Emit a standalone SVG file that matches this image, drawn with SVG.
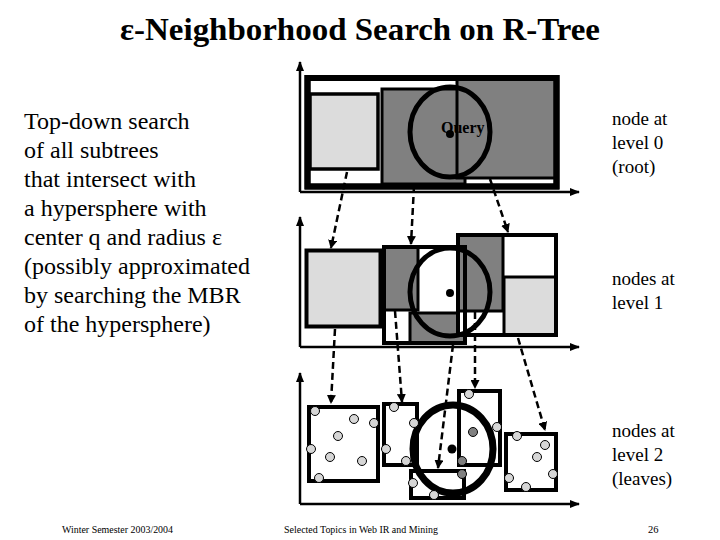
<svg xmlns="http://www.w3.org/2000/svg" width="720" height="540" viewBox="0 0 720 540">
<defs>
<marker id="ah" markerUnits="userSpaceOnUse" markerWidth="9" markerHeight="9" refX="8" refY="4.5" orient="auto"><path d="M0,0 L9,4.5 L0,9 Z" fill="#000"/></marker>
<marker id="ax" markerUnits="userSpaceOnUse" markerWidth="10" markerHeight="8" refX="9" refY="4" orient="auto"><path d="M0,0 L10,4 L0,8 Z" fill="#000"/></marker>
<style>
.t{font-family:"Liberation Serif","Times New Roman",serif;fill:#000}
.axis{stroke:#000;stroke-width:2.5;fill:none;marker-end:url(#ax)}
.conn{stroke:#000;stroke-width:2.5;fill:none;stroke-dasharray:7,4;marker-end:url(#ah)}
.w{fill:#fff;stroke:#000}
.lg{fill:#dcdcdc;stroke:#000}
.dg{fill:#808080;stroke:#000}
.ring{fill:none;stroke:#000}
.pt{fill:#d6d6d6;stroke:#000;stroke-width:1}
.pd{fill:#808080;stroke:#000;stroke-width:1}
</style>
</defs>
<rect width="720" height="540" fill="#fff"/>
<text class="t" x="360" y="40" text-anchor="middle" font-size="32" font-weight="bold" textLength="480" lengthAdjust="spacingAndGlyphs">ε-Neighborhood Search on R-Tree</text>
<g id="description" class="t" font-size="24">
<text x="24" y="129">Top-down search</text>
<text x="24" y="158">of all subtrees</text>
<text x="24" y="187">that intersect with</text>
<text x="24" y="216">a hypersphere with</text>
<text x="24" y="245">center q and radius ε</text>
<text x="24" y="274">(possibly approximated</text>
<text x="24" y="303">by searching the MBR</text>
<text x="24" y="332">of the hypersphere)</text>
</g>
<g id="axes">
<path class="axis" d="M300,192 L300,62"/><path class="axis" d="M300,192 L579,192"/>
<path class="axis" d="M300,347 L300,217"/><path class="axis" d="M300,347 L579,347"/>
<path class="axis" d="M300,504 L300,373"/><path class="axis" d="M300,504 L579,504"/>
</g>
<g id="level0">
<rect class="w" x="307.5" y="78" width="249" height="108.5" stroke-width="6"/>
<rect class="lg" x="310" y="94" width="68" height="75" stroke-width="3.5"/>
<rect class="dg" x="382" y="89" width="83" height="95" stroke-width="3"/>
<rect class="dg" x="457" y="79" width="98" height="99" stroke-width="3"/>
<rect x="307.5" y="78" width="249" height="108.5" fill="none" stroke="#000" stroke-width="6"/>
<ellipse class="ring" cx="450" cy="132" rx="40" ry="45" stroke-width="5"/>
<circle cx="450" cy="134" r="4" fill="#000"/>
<text class="t" x="441" y="133" font-size="16" font-weight="bold">Query</text>
</g>
<g id="level1">
<rect class="lg" x="306.5" y="250.5" width="74" height="76" stroke-width="4"/>
<rect class="w" x="384" y="247" width="81" height="96" stroke-width="4"/>
<rect class="dg" x="384" y="247" width="34" height="63" stroke-width="3"/>
<rect class="dg" x="410" y="313" width="55" height="30" stroke-width="3"/>
<rect class="w" x="458" y="235" width="98" height="100" stroke-width="4"/>
<rect class="dg" x="458" y="235" width="45" height="76" stroke-width="3"/>
<rect class="lg" x="504" y="277" width="52" height="58" stroke-width="3"/>
<rect x="458" y="235" width="98" height="100" fill="none" stroke="#000" stroke-width="4"/>
<rect x="384" y="247" width="81" height="96" fill="none" stroke="#000" stroke-width="4"/>
<ellipse class="ring" cx="450" cy="292" rx="40" ry="44" stroke-width="5"/>
<circle cx="450" cy="293" r="4" fill="#000"/>
</g>
<g id="level2">
<rect class="w" x="309" y="407" width="69" height="74" stroke-width="4"/>
<rect class="w" x="384" y="404" width="33" height="61" stroke-width="4"/>
<rect class="w" x="411" y="471" width="53" height="27" stroke-width="4"/>
<rect class="w" x="459" y="391" width="41" height="74" stroke-width="4"/>
<rect class="w" x="506" y="434" width="50" height="56" stroke-width="4"/>
<ellipse class="ring" cx="453" cy="449" rx="40" ry="44" stroke-width="7"/>
<circle cx="452" cy="449" r="4.5" fill="#000"/>
<g id="points">
<circle class="pt" cx="315" cy="411" r="4.5"/><circle class="pt" cx="354" cy="419" r="4.5"/><circle class="pt" cx="374" cy="423" r="4.5"/><circle class="pt" cx="338" cy="436" r="4.5"/><circle class="pt" cx="311" cy="449" r="4.5"/><circle class="pt" cx="330" cy="457" r="4.5"/><circle class="pt" cx="362" cy="461" r="4.5"/><circle class="pt" cx="319" cy="478" r="4.5"/>
<circle class="pt" cx="394" cy="407" r="4.5"/><circle class="pt" cx="414" cy="423" r="4.5"/><circle class="pt" cx="386" cy="449" r="4.5"/><circle class="pt" cx="406" cy="461" r="4.5"/>
<circle class="pt" cx="413" cy="483" r="4.5"/><circle class="pt" cx="434" cy="495" r="4.5"/>
<circle class="pt" cx="469" cy="394" r="4.5"/><circle class="pt" cx="497" cy="427" r="4.5"/><circle class="pd" cx="473" cy="432" r="4.5"/><circle class="pd" cx="462" cy="461" r="4.5"/><circle class="pd" cx="462" cy="474" r="4.5"/>
<circle class="pt" cx="517" cy="436" r="4.5"/><circle class="pt" cx="545" cy="445" r="4.5"/><circle class="pt" cx="537" cy="457" r="4.5"/><circle class="pt" cx="553" cy="474" r="4.5"/><circle class="pt" cx="509" cy="478" r="4.5"/><circle class="pt" cx="526" cy="487" r="4.5"/>
</g>
</g>
<g id="connectors">
<path class="conn" d="M347,172 L331,248"/>
<path class="conn" d="M414,186 L411,244"/>
<path class="conn" d="M490,179 L508,232"/>
<path class="conn" d="M335,329 L331,403"/>
<path class="conn" d="M395,311 L402,402"/>
<path class="conn" d="M453,345 L438,468"/>
<path class="conn" d="M475,312 L475,388"/>
<path class="conn" d="M518,338 L545,430"/>
</g>
<g id="labels" class="t" font-size="19">
<text x="612" y="125">node at</text>
<text x="612" y="149">level 0</text>
<text x="612" y="173">(root)</text>
<text x="612" y="285">nodes at</text>
<text x="612" y="309">level 1</text>
<text x="612" y="437">nodes at</text>
<text x="612" y="461">level 2</text>
<text x="612" y="485">(leaves)</text>
</g>
<g id="footer" class="t" font-size="10.5">
<text x="62" y="533" textLength="111" lengthAdjust="spacingAndGlyphs">Winter Semester 2003/2004</text>
<text x="284" y="533" textLength="154" lengthAdjust="spacingAndGlyphs">Selected Topics in Web IR and Mining</text>
<text x="648" y="533">26</text>
</g>
</svg>
